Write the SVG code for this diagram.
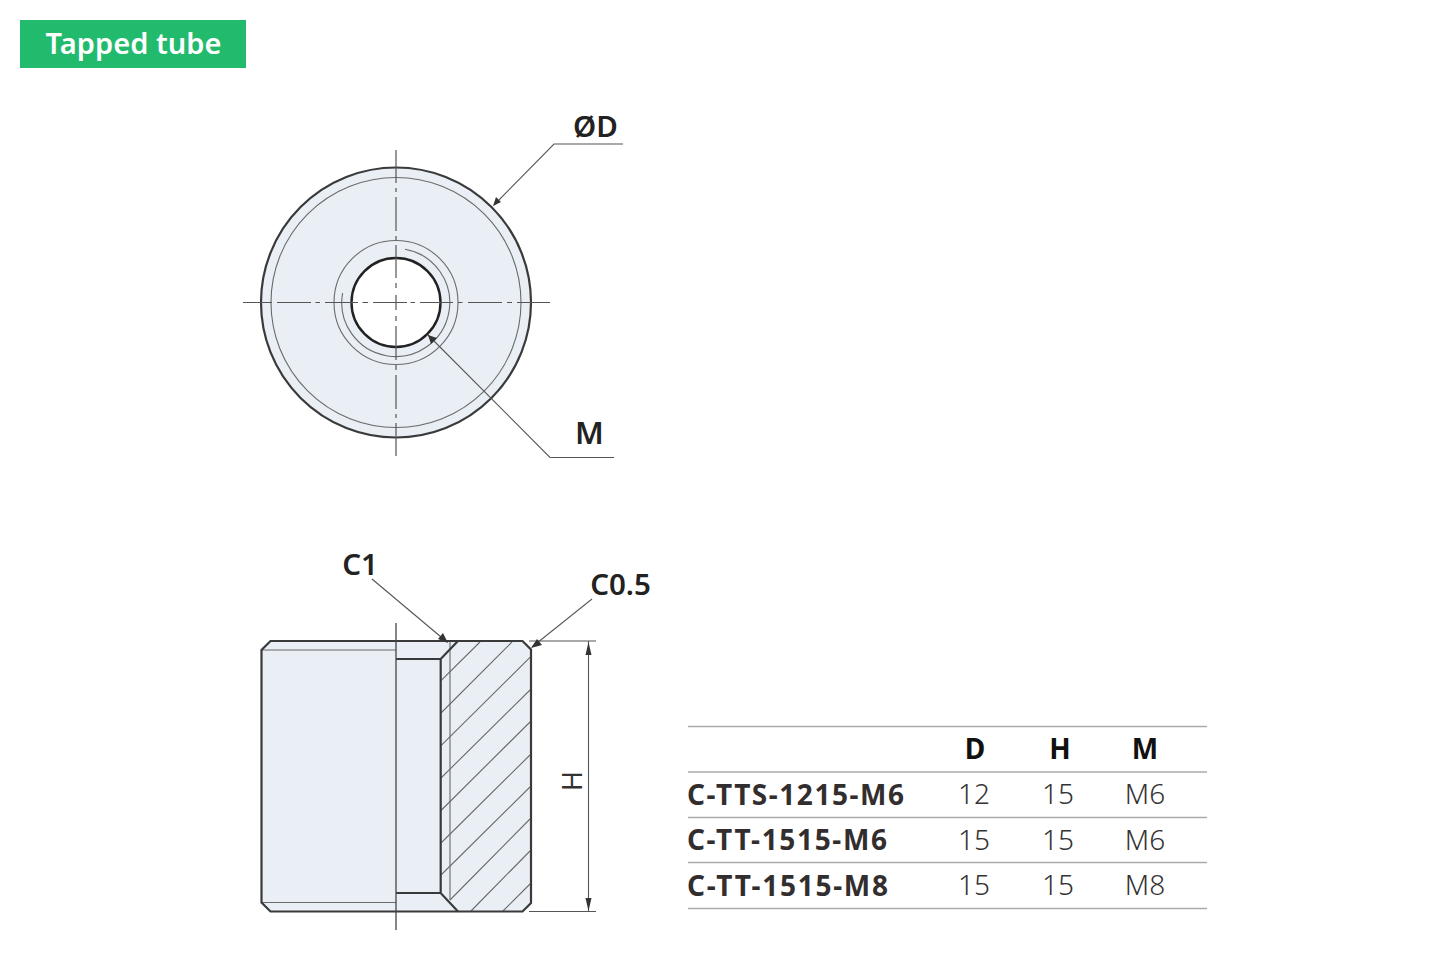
<svg xmlns="http://www.w3.org/2000/svg" width="1450" height="973" viewBox="0 0 1450 973">
<style>
text{font-family:"Noto Sans","Open Sans","Liberation Sans",sans-serif;fill:#222}
.lb{font-size:29.500px;font-weight:600;fill:#222;text-anchor:middle}
.k{font-size:28px;font-weight:700;fill:#332e2e}
.v{font-size:28px;font-weight:300;fill:#333;text-anchor:middle}
.h{font-size:28px;font-weight:700;fill:#111;text-anchor:middle}
.o{fill:none;stroke:#3a3a3a;stroke-width:2.200}
.t{fill:none;stroke:#6a6a6a;stroke-width:1.100}
.d{fill:none;stroke:#555;stroke-width:1.100}
.c{fill:none;stroke:#555;stroke-width:1.200}
.r{stroke:#aaa;stroke-width:1.400}
.a{fill:#333}
</style>
<rect width="1450" height="973" fill="#fff"/>
<g id="title"><rect x="20" y="20" width="226" height="48" fill="#22bb6e"/><text x="133.500" y="54" text-anchor="middle" style="font-size:29px;font-weight:600;fill:#fff" textLength="176" lengthAdjust="spacing">Tapped tube</text></g>
<g id="front-view">
<circle cx="396" cy="302.500" r="135" fill="#e9eff5" stroke="#3a3a3a" stroke-width="2.200"/>
<circle cx="396" cy="302.500" r="125" class="t"/>
<circle cx="396" cy="302.500" r="62" class="t"/>
<path d="M342.600 293A54 54 0 1 0 405 249.300" class="t"/>
<circle cx="396" cy="302.500" r="44.500" fill="#fff" stroke="#222" stroke-width="2.400"/>
<path d="M243 302.500H272M277 302.500H311M315.500 302.500H320M325 302.500H358M362.500 302.500H368M373 302.500H407M410.500 302.500H415M420 302.500H453M458 302.500H462.500M468 302.500H502M507 302.500H512M517 302.500H550" class="c"/>
<path d="M396 150V183M396 188V192M396 197V231M396 236V240M396 245V278M396 283V288M396 295V310M396 316V321M396 326V360M396 365V370M396 375V409M396 414V418M396 423V456" class="c"/>
</g>
<g id="side-view">
<path d="M270.500 641H522.500L531 649.500V903L522.500 911.500H270.500L261.500 902.500V650Z" fill="#e9eff5"/>
<path d="M261.500 650H396M261.500 902.500H396M450 641V900" class="t"/>
<path d="M441 680.700L480 642M441 713L512 642M441 745.700L530 657.300M441 778L530 690M441 810.500L530 722M441 843L530 755M441 875L530 787M450 900L530 819M471 911L530 851M503 911L530 884" class="t"/>
<path d="M270.500 641H522.500L531 649.500V903L522.500 911.500H270.500L261.500 902.500V650Z" class="o"/>
<path d="M396 659H440.700L458 641M396 893H440.700L458 911.500M440.700 659V893" class="o"/>
<path d="M396 623V930" fill="none" stroke="#444" stroke-width="1.300"/>
</g>
<g id="connectors">
<path d="M623 144H554L494 205" class="d"/>
<path d="M614 457.500H550L428 335" class="d"/>
<path d="M372 579L447 642" class="d"/>
<path d="M592 599L532 647" class="d"/>
<path d="M529 641H596M529 911.500H596M588.500 641V911.500" class="d"/>
<path class="a" d="M493 206L496 197L501 202ZM428 335L437 338L431 344ZM448 643L438 639L443 633ZM531 648L537 639L542 645ZM588.500 642L591.500 655H585.500ZM588.500 911L585.500 898H591.500Z"/>
</g>
<g id="labels">
<text x="595.500" y="137" class="lb">ØD</text>
<text x="589.500" y="444" class="lb" style="font-size:31px">M</text>
<text x="360" y="575" class="lb">C1</text>
<text x="620.500" y="595" class="lb">C0.5</text>
<text transform="translate(581.500 781) rotate(-90)" text-anchor="middle" style="font-size:27px;font-weight:400;fill:#333">H</text>
</g>
<g id="table">
<path class="r" d="M688 726.500H1207M688 772H1207M688 817.500H1207M688 862.500H1207M688 908.500H1207"/>
<text x="975" y="759" class="h">D</text><text x="1060" y="759" class="h">H</text><text x="1145" y="759" class="h">M</text>
<text x="687" y="805" class="k" textLength="217" lengthAdjust="spacing">C-TTS-1215-M6</text>
<text x="687" y="850" class="k" textLength="200" lengthAdjust="spacing">C-TT-1515-M6</text>
<text x="687" y="896" class="k" textLength="201" lengthAdjust="spacing">C-TT-1515-M8</text>
<text x="974" y="804" class="v">12</text><text x="1058" y="804" class="v">15</text><text x="1145" y="804" class="v">M6</text>
<text x="974" y="850" class="v">15</text><text x="1058" y="850" class="v">15</text><text x="1145" y="850" class="v">M6</text>
<text x="974" y="895" class="v">15</text><text x="1058" y="895" class="v">15</text><text x="1145" y="895" class="v">M8</text>
</g>
</svg>
